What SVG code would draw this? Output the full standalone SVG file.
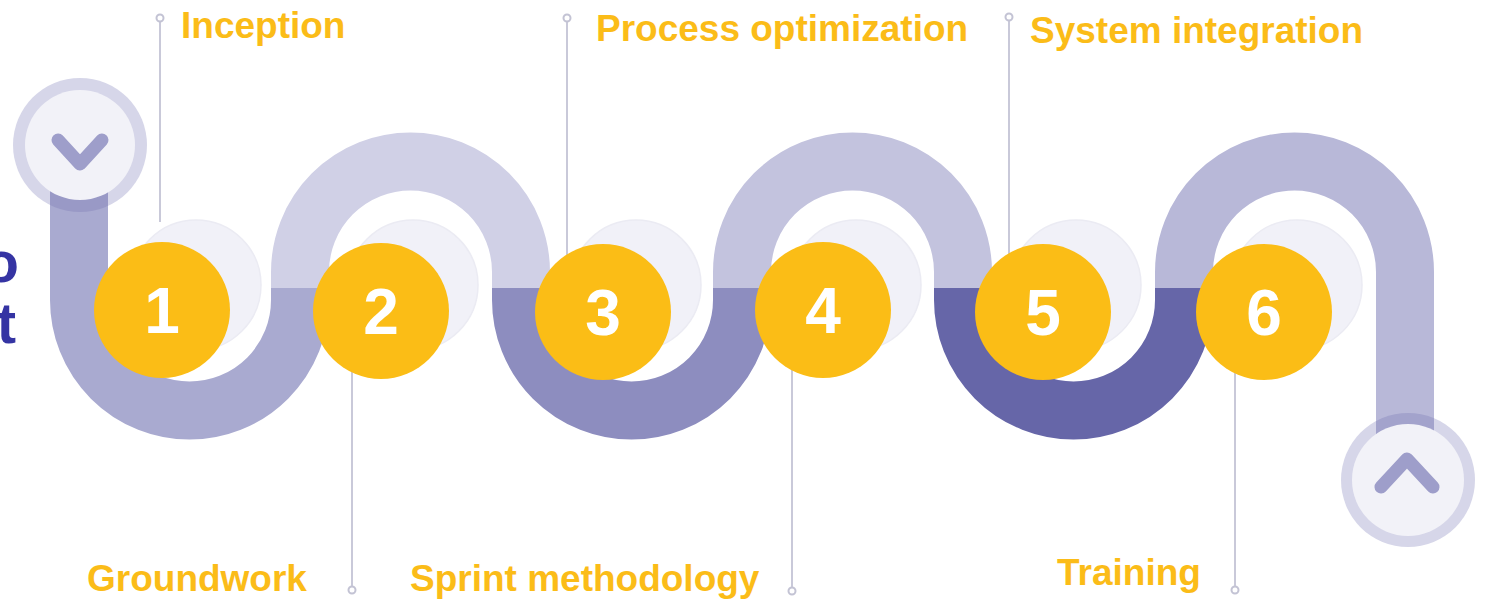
<svg xmlns="http://www.w3.org/2000/svg" width="1488" height="605" viewBox="0 0 1488 605">
<style>
.band{fill:none;stroke-width:58;stroke-linecap:butt}
.shadow{fill:#f1f1f8;stroke:#ebebf3;stroke-width:1.5}
.dot{fill:#fbbd16}
.num{font-family:"Liberation Sans",Arial,sans-serif;font-weight:bold;font-size:64px;fill:#ffffff;text-anchor:middle}
.lbl{font-family:"Liberation Sans",Arial,sans-serif;font-weight:bold;font-size:37px;fill:#fbbc18}
.lead{stroke:#c9c9d9;stroke-width:2;fill:none}
.pin{fill:#ffffff;stroke:#c3c3d4;stroke-width:2}
.ring{fill:#d6d6e9}
.disc{fill:#f2f2f8}
.chev{fill:none;stroke:#9e9eca;stroke-width:13;stroke-linecap:round;stroke-linejoin:round}
.side{font-family:"Liberation Sans",Arial,sans-serif;font-weight:bold;font-size:58px;fill:#3534a3;text-anchor:end}
</style>
<defs>
<clipPath id="clipTop"><rect x="50" y="190" width="58" height="40"/></clipPath>
<clipPath id="clipBot"><rect x="1376" y="395" width="58" height="40"/></clipPath>
</defs>
<rect width="1488" height="605" fill="#ffffff"/>

<g id="side-text">
<text class="side" x="19" y="282">o</text>
<text class="side" x="16" y="343">t</text>
</g>

<g id="shadows">
<circle class="shadow" cx="196" cy="285" r="65"/>
<circle class="shadow" cx="413" cy="285" r="65"/>
<circle class="shadow" cx="636" cy="285" r="65"/>
<circle class="shadow" cx="856" cy="285" r="65"/>
<circle class="shadow" cx="1076" cy="285" r="65"/>
<circle class="shadow" cx="1297" cy="285" r="65"/>
</g>

<g id="start">
<circle class="ring" cx="80" cy="145" r="67"/>
</g>
<g id="end">
<circle class="ring" cx="1408" cy="480" r="67"/>
</g>

<g id="connectors">
<path class="band" stroke="#a9aad0" d="M79,200 V300 A110.5,110.5 0 0 0 300,300 V288"/>
<path class="band" stroke="#d0d0e6" d="M300,288 V272 A110.5,110.5 0 0 1 521,272 V288"/>
<path class="band" stroke="#8d8dbf" d="M521,288 V300 A110.5,110.5 0 0 0 742,300 V288"/>
<path class="band" stroke="#c3c3de" d="M742,288 V272 A110.5,110.5 0 0 1 963,272 V288"/>
<path class="band" stroke="#6666a8" d="M963,288 V300 A110.5,110.5 0 0 0 1184,300 V288"/>
<path class="band" stroke="#b8b8d8" d="M1184,288 V272 A110.5,110.5 0 0 1 1405,272 V430"/>
<circle cx="80" cy="145" r="67" fill="#9999c6" clip-path="url(#clipTop)"/>
<circle cx="1408" cy="480" r="67" fill="#a3a3cc" clip-path="url(#clipBot)"/>
<path class="lead" d="M160,22 V222"/>
<path class="lead" d="M567,22 V258"/>
<path class="lead" d="M1009,21 V258"/>
<path class="lead" d="M352,365 V586"/>
<path class="lead" d="M792,365 V587"/>
<path class="lead" d="M1235,365 V586"/>
<circle class="pin" cx="160" cy="18" r="3.5"/>
<circle class="pin" cx="567" cy="18" r="3.5"/>
<circle class="pin" cx="1009" cy="17" r="3.5"/>
<circle class="pin" cx="352" cy="590" r="3.5"/>
<circle class="pin" cx="792" cy="591" r="3.5"/>
<circle class="pin" cx="1235" cy="590" r="3.5"/>
</g>

<g id="start-icon">
<circle class="disc" cx="80" cy="145" r="55"/>
<path class="chev" d="M58,140 L80,164 L102,140"/>
</g>
<g id="end-icon">
<circle class="disc" cx="1408" cy="480" r="56"/>
<path class="chev" d="M1381,487 L1407,459 L1433,487"/>
</g>

<g id="step1"><circle class="dot" cx="162" cy="310" r="68"/><text class="num" x="162" y="333">1</text></g>
<g id="step2"><circle class="dot" cx="381" cy="311" r="68"/><text class="num" x="381" y="334">2</text></g>
<g id="step3"><circle class="dot" cx="603" cy="312" r="68"/><text class="num" x="603" y="335">3</text></g>
<g id="step4"><circle class="dot" cx="823" cy="310" r="68"/><text class="num" x="823" y="333">4</text></g>
<g id="step5"><circle class="dot" cx="1043" cy="312" r="68"/><text class="num" x="1043" y="335">5</text></g>
<g id="step6"><circle class="dot" cx="1264" cy="312" r="68"/><text class="num" x="1264" y="335">6</text></g>

<g id="labels">
<text class="lbl" x="181" y="38">Inception</text>
<text class="lbl" x="596" y="41">Process optimization</text>
<text class="lbl" x="1030" y="43">System integration</text>
<text class="lbl" x="87" y="591">Groundwork</text>
<text class="lbl" x="410" y="591">Sprint methodology</text>
<text class="lbl" x="1057" y="585">Training</text>
</g>
</svg>
